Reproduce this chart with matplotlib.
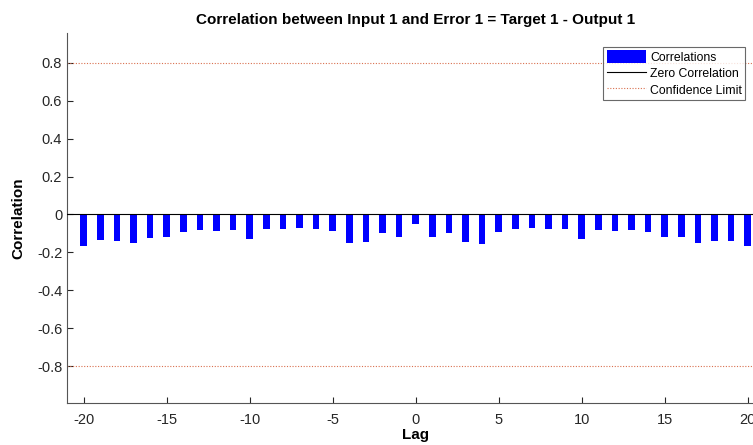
import matplotlib
matplotlib.use("Agg")
from matplotlib import pyplot as plt
from matplotlib.patches import Patch
from matplotlib.lines import Line2D

lags = list(range(-20, 21))
corr = [-0.168, -0.137, -0.142, -0.148, -0.123, -0.118, -0.093, -0.083, -0.086, -0.083,
        -0.130, -0.077, -0.074, -0.072, -0.074, -0.088, -0.153, -0.146, -0.100, -0.118,
        -0.051,
        -0.119, -0.100, -0.144, -0.154, -0.090, -0.074, -0.070, -0.074, -0.077, -0.130,
        -0.084, -0.086, -0.084, -0.093, -0.118, -0.121, -0.149, -0.142, -0.139, -0.168]
conf_limit = 0.8
title = "Correlation between Input 1 and Error 1 = Target 1 - Output 1"
xticks = [-20, -15, -10, -5, 0, 5, 10, 15, 20]
yticks = [-0.8, -0.6, -0.4, -0.2, 0, 0.2, 0.4, 0.6, 0.8]
ytick_labels = ["-0.8", "-0.6", "-0.4", "-0.2", "0", "0.2", "0.4", "0.6", "0.8"]


def main():
    plt.rcParams['font.family'] = ['Liberation Sans', 'DejaVu Sans']
    plt.rcParams['axes.unicode_minus'] = False
    fig = plt.figure(figsize=(7.53, 4.45), dpi=100)
    # axes run past the right edge, like the cropped original
    ax = fig.add_axes([0.089, 0.094, 0.926, 0.831])

    conf_color = "#d9704f"
    ax.bar(lags, corr, width=0.4, color="#0000ff", zorder=2)
    ax.plot([-21, 21], [0, 0], color="black", lw=0.8, zorder=3)
    ax.plot([-21, 21], [conf_limit, conf_limit], color=conf_color, lw=0.8, ls=(0, (1, 1.5)))
    ax.plot([-21, 21], [-conf_limit, -conf_limit], color=conf_color, lw=0.8, ls=(0, (1, 1.5)))

    ax.set_xlim(-21, 21)
    ax.set_ylim(-0.995, 0.955)
    ax.set_xticks(xticks)
    ax.set_yticks(yticks)
    ax.set_yticklabels(ytick_labels)
    ax.tick_params(direction="in", length=4, width=0.8, labelsize=10.5, colors="#262626")
    ax.tick_params(axis="x", pad=7)
    for s in ["top", "right"]:
        ax.spines[s].set_visible(False)
    for s in ["left", "bottom"]:
        ax.spines[s].set_color("#555555")
        ax.spines[s].set_linewidth(0.8)

    ax.set_title(title, fontsize=11, fontweight="bold", pad=7)
    ax.set_xlabel("Lag", fontsize=11, fontweight="bold", labelpad=1)
    ax.set_ylabel("Correlation", fontsize=11, fontweight="bold", labelpad=8)

    handles = [Patch(facecolor="#0000ff", edgecolor="none"),
               Line2D([], [], color="black", lw=0.8),
               Line2D([], [], color=conf_color, lw=0.8, ls=(0, (1, 1.5)))]
    labels = ["Correlations", "Zero Correlation", "Confidence Limit"]
    leg = fig.legend(handles, labels, loc="upper right", bbox_to_anchor=(0.99, 0.895),
                     fontsize=8.8, frameon=True, fancybox=False, edgecolor="#444444",
                     borderpad=0.3, labelspacing=0.25, handlelength=3.2, handleheight=1.2,
                     handletextpad=0.3, borderaxespad=0)
    leg.get_frame().set_linewidth(0.8)

    fig.savefig("out.png", dpi=100)


if __name__ == '__main__':
    main()
